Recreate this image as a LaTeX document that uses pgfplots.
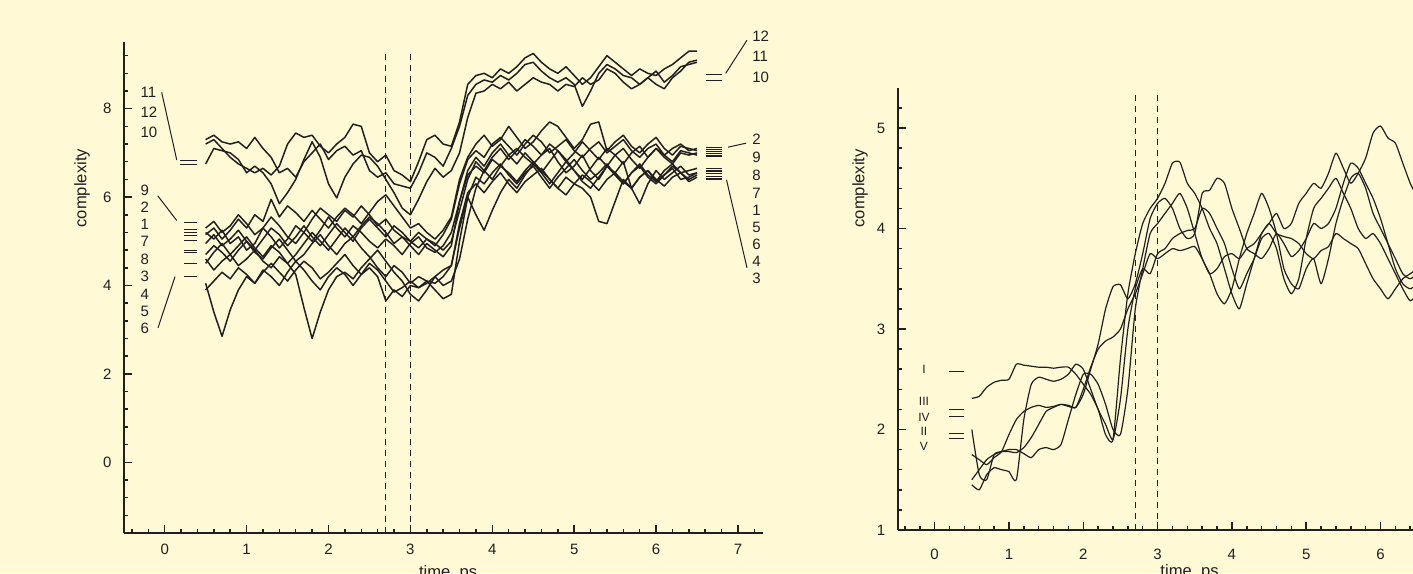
\documentclass[border=0pt]{standalone}
\usepackage{fontspec}
\setmainfont{Liberation Sans}
\usepackage{pgfplots}
\usepackage{pgfplotstable}
\pgfplotsset{compat=1.18}
\definecolor{bg}{RGB}{255,249,213}
\definecolor{ink}{RGB}{35,31,32}

% left panel: one row per trajectory, transposed below
\pgfplotstableread[header=false]{
x 0.5 0.6 0.7 0.8 0.9 1.0 1.1 1.2 1.3 1.4 1.5 1.6 1.7 1.8 1.9 2.0 2.1 2.2 2.3 2.4 2.5 2.6 2.7 2.8 2.9 3.0 3.1 3.2 3.3 3.4 3.5 3.6 3.7 3.8 3.9 4.0 4.1 4.2 4.3 4.4 4.5 4.6 4.7 4.8 4.9 5.0 5.1 5.2 5.3 5.4 5.5 5.6 5.7 5.8 5.9 6.0 6.1 6.2 6.3 6.4 6.5
c1 5.20 5.05 5.25 4.95 5.10 4.80 4.95 5.30 5.10 4.85 5.05 5.35 5.20 5.00 5.25 5.55 5.30 5.10 5.35 5.20 5.00 4.85 5.05 4.90 4.70 4.95 5.10 4.85 4.75 4.90 5.20 5.90 6.50 6.70 6.55 6.85 6.70 6.95 7.10 6.90 6.75 6.95 7.10 6.80 6.55 6.70 6.95 6.60 6.40 6.70 6.55 6.80 6.20 5.85 6.30 6.60 6.40 6.55 6.70 6.50 6.55
c2 5.30 5.45 5.20 5.35 5.60 5.40 5.15 5.30 5.55 5.35 5.10 4.95 5.20 5.50 5.75 5.60 5.45 5.70 5.55 5.80 5.60 5.35 5.50 5.25 5.10 5.00 5.20 5.05 4.90 5.15 5.50 6.30 6.85 7.05 6.90 7.20 7.35 7.15 6.95 7.20 7.40 7.25 7.00 7.15 7.30 7.05 6.90 7.10 7.25 7.00 7.15 7.30 7.05 6.90 7.10 7.20 6.95 7.10 7.20 7.05 7.10
c3 4.05 3.40 2.85 3.45 3.90 4.20 4.05 4.35 4.20 4.00 4.30 4.55 4.35 4.10 3.90 4.20 4.40 4.25 4.00 4.25 4.50 4.35 4.10 3.85 3.95 4.10 3.95 4.05 4.20 4.35 4.45 5.40 6.10 6.30 6.10 6.35 6.55 6.30 6.10 6.35 6.50 6.65 6.40 6.20 6.05 6.30 6.50 6.35 6.15 6.40 6.55 6.35 6.20 6.45 6.60 6.40 6.25 6.45 6.55 6.35 6.45
c4 4.60 4.35 4.55 4.70 4.45 4.60 4.80 4.55 4.40 4.65 4.50 4.25 3.50 2.80 3.40 3.90 4.20 4.30 4.15 4.40 4.60 4.80 4.55 4.30 4.10 3.80 3.65 3.90 4.20 4.00 4.10 4.60 5.50 6.20 6.60 6.40 6.70 6.55 6.35 6.60 6.80 6.60 6.40 6.20 6.45 6.30 6.20 6.00 5.45 5.40 5.90 6.40 6.20 6.45 6.60 6.35 6.50 6.70 6.55 6.40 6.50
c5 4.70 4.90 4.75 4.55 4.80 5.00 4.75 4.60 4.85 5.05 4.80 4.55 4.70 4.95 5.15 4.90 4.70 4.95 5.10 4.85 4.65 4.40 4.20 4.45 4.30 4.05 4.20 4.10 3.90 3.70 3.80 5.00 6.00 5.60 5.25 5.70 6.10 6.40 6.20 6.50 6.75 6.55 6.30 6.55 6.80 6.60 6.35 6.20 6.45 6.70 6.50 6.30 6.55 6.75 6.50 6.35 6.60 6.75 6.55 6.60 6.65
c6 3.90 4.10 4.30 4.15 4.40 4.25 4.05 4.30 4.50 4.30 4.10 4.35 4.55 4.40 4.15 4.30 4.50 4.70 4.45 4.25 4.40 4.20 3.65 3.90 3.75 4.00 3.95 4.10 4.05 4.20 4.45 5.30 6.00 6.45 6.30 6.55 6.75 6.50 6.30 6.55 6.70 6.45 6.20 6.45 6.65 6.85 6.60 6.40 6.55 6.75 6.50 6.30 6.55 6.70 6.45 6.30 6.50 6.65 6.40 6.45 6.55
c7 4.95 5.15 4.90 5.05 5.25 5.00 4.80 5.05 5.30 5.15 4.90 5.10 5.35 5.10 4.90 5.15 5.40 5.20 5.00 5.30 5.50 5.30 5.10 5.35 5.20 5.00 4.85 5.05 4.95 4.80 5.00 5.70 6.40 6.80 6.60 6.90 7.10 6.85 7.05 7.30 7.15 6.95 7.20 7.05 6.80 7.00 7.25 7.05 6.85 7.10 6.95 6.75 7.00 7.15 6.90 7.10 6.95 6.80 7.05 7.00 6.95
c8 4.50 4.75 4.95 4.70 4.90 5.10 4.85 4.65 4.90 4.75 4.50 4.70 4.95 5.20 5.00 4.80 5.05 5.30 5.10 5.35 5.55 5.40 5.20 4.95 5.10 4.90 4.70 4.95 4.80 4.65 4.90 5.90 6.60 6.90 6.70 7.00 7.20 6.95 6.75 7.00 6.80 6.55 6.80 7.05 6.85 6.60 6.40 6.65 6.90 6.70 6.95 7.10 6.85 6.65 6.90 7.10 6.90 6.75 7.00 6.95 7.00
c9 5.15 5.30 5.05 5.25 5.50 5.30 5.60 5.45 5.95 5.55 5.80 5.65 5.45 5.70 5.50 5.30 5.55 5.75 5.60 5.40 5.65 5.90 6.05 5.80 5.55 5.30 5.40 5.20 5.05 5.25 5.55 6.40 6.90 7.20 7.40 7.15 7.30 7.60 7.35 7.10 7.25 7.50 7.70 7.60 7.35 7.10 7.30 7.65 7.70 7.05 7.25 7.40 7.15 7.00 7.20 7.35 7.10 6.95 7.15 7.10 7.05
c10 6.75 7.10 7.05 7.00 6.85 6.55 6.70 6.55 6.30 5.85 6.10 6.40 6.85 7.25 6.90 6.30 5.98 6.45 6.75 6.95 6.90 6.70 6.40 6.10 5.75 5.60 5.95 6.35 6.65 6.45 6.60 7.00 7.80 8.35 8.40 8.55 8.45 8.60 8.40 8.55 8.70 8.60 8.55 8.40 8.55 8.50 8.70 8.55 8.65 8.90 8.80 8.60 8.45 8.55 8.70 8.55 8.45 8.70 8.85 9.05 9.10
c11 7.30 7.40 7.25 7.20 7.25 7.10 7.35 7.10 6.90 6.55 6.65 6.45 6.80 7.00 7.20 6.85 7.05 7.15 6.95 7.05 6.60 6.45 6.55 6.30 6.25 6.20 6.55 7.00 6.90 6.70 7.10 7.60 8.30 8.55 8.65 8.60 8.75 8.65 8.80 9.00 9.05 8.85 8.70 8.60 8.70 8.55 8.05 8.40 8.80 9.00 8.90 8.75 8.70 8.55 8.70 8.85 8.60 8.75 8.95 9.00 9.05
c12 7.20 7.30 7.10 6.90 6.75 6.65 6.55 6.65 6.50 6.70 7.20 7.45 7.35 7.40 7.15 7.00 7.20 7.35 7.65 7.60 7.00 6.80 6.95 6.60 6.50 6.35 6.80 7.30 7.40 7.20 7.15 7.70 8.55 8.75 8.80 8.70 8.90 8.80 8.95 9.15 9.25 9.05 8.90 8.80 8.95 8.75 8.55 8.70 8.95 9.20 9.05 8.90 8.75 8.90 8.80 8.75 8.90 9.00 9.15 9.30 9.30
}\leftraw
\pgfplotstabletranspose[colnames from=0]{\lefttab}{\leftraw}

% right panel: trajectories I-V
\pgfplotstableread[header=false]{
x 0.5 0.6 0.7 0.8 0.9 1.0 1.1 1.2 1.3 1.4 1.5 1.6 1.7 1.8 1.9 2.0 2.1 2.2 2.3 2.4 2.5 2.6 2.7 2.8 2.9 3.0 3.1 3.2 3.3 3.4 3.5 3.6 3.7 3.8 3.9 4.0 4.1 4.2 4.3 4.4 4.5 4.6 4.7 4.8 4.9 5.0 5.1 5.2 5.3 5.4 5.5 5.6 5.7 5.8 5.9 6.0 6.1 6.2 6.3 6.4 6.5
r1 2.31 2.33 2.42 2.47 2.49 2.50 2.65 2.64 2.63 2.62 2.62 2.61 2.62 2.62 2.55 2.45 2.35 2.20 1.95 1.90 2.70 3.35 3.75 4.05 4.20 4.30 4.45 4.65 4.66 4.45 4.35 4.20 4.00 3.85 3.60 3.35 3.20 3.45 3.70 3.95 4.05 4.15 4.00 4.05 4.25 4.35 4.45 4.40 4.55 4.75 4.60 4.45 4.55 4.70 4.95 5.02 4.90 4.85 4.65 4.45 4.30
r2 2.00 1.55 1.50 1.75 1.78 1.80 1.80 1.76 1.72 1.80 1.82 1.80 1.85 2.10 2.35 2.55 2.55 2.45 2.25 2.00 1.95 2.40 3.20 3.60 3.95 4.05 4.15 4.25 4.35 4.20 3.95 3.70 3.55 3.35 3.25 3.40 3.70 3.95 4.15 4.35 4.20 3.95 3.60 3.45 3.40 3.60 3.70 3.45 3.70 4.05 4.30 4.50 4.55 4.40 4.15 4.00 3.85 3.70 3.55 3.50 3.55
r3 1.75 1.70 1.65 1.72 1.78 1.95 2.10 2.18 2.22 2.24 2.22 2.23 2.25 2.23 2.22 2.40 2.62 2.80 2.88 2.92 3.00 3.20 3.35 3.55 3.75 3.70 3.75 3.80 3.78 3.80 3.82 3.70 3.55 3.60 3.72 3.75 3.70 3.80 3.85 3.95 4.05 3.95 3.92 3.90 3.85 3.75 3.70 3.78 3.82 3.95 3.90 3.85 3.80 3.65 3.50 3.40 3.30 3.40 3.50 3.55 3.60
r4 1.50 1.60 1.70 1.75 1.78 1.78 1.77 1.82 1.92 2.05 2.18 2.22 2.25 2.24 2.22 2.35 2.60 2.85 3.20 3.42 3.44 3.30 3.45 3.75 4.10 4.25 4.30 4.20 4.00 3.90 3.95 4.35 4.38 4.50 4.45 4.20 4.00 3.80 3.75 3.70 3.80 3.95 3.85 3.72 3.78 3.90 4.05 4.00 4.05 4.20 4.45 4.65 4.60 4.45 4.30 4.10 3.85 3.60 3.45 3.40 3.45
r5 1.45 1.40 1.55 1.62 1.60 1.58 1.50 2.10 2.45 2.52 2.50 2.48 2.50 2.55 2.65 2.60 2.40 2.20 2.05 1.90 2.30 3.00 3.40 3.60 3.55 3.75 3.80 3.90 3.95 3.98 4.00 4.20 4.15 4.00 3.85 3.60 3.40 3.55 3.70 3.90 3.95 3.80 3.50 3.35 3.50 3.90 4.20 4.30 4.40 4.50 4.35 4.20 4.00 3.90 3.95 3.85 3.70 3.55 3.40 3.28 3.35
}\rightraw
\pgfplotstabletranspose[colnames from=0]{\righttab}{\rightraw}

\pgfplotsset{
  panel/.style={
    scale only axis, clip=false,
    axis lines=left, axis line style={-, line width=1pt, ink},
    tick align=inside, major tick length=4.2pt, minor tick length=2.2pt,
    every tick/.style={ink, line width=0.75pt},
    tick label style={font=\fontsize{7.5}{9}\selectfont, text=ink},
    /pgf/number format/assume math mode=true,
    xticklabel style={yshift=-2.2pt}, yticklabel style={xshift=-2.6pt},
    xmin=-0.5, xmax=7.3, xtick={0,...,7}, minor xtick={-0.4,-0.2,...,7.2},
  },
  curve/.style={ink, line width=0.75pt, line join=round, mark=none},
  thin curve/.style={ink, line width=0.6pt, line join=round, mark=none, smooth, tension=0.35},
  vline/.style={ink, line width=0.5pt, dash pattern=on 3pt off 2.5pt, mark=none},
  dash/.style={ink, line width=0.6pt, mark=none},
}
\tikzset{
  num/.style={font=\fontsize{7.5}{9}\selectfont, text=ink, anchor=west, inner sep=0pt},
  rom/.style={font=\fontsize{6}{7}\selectfont, text=ink},
  axlab/.style={font=\fontsize{8.3}{10}\selectfont, text=ink},
}

\begin{document}
\begin{tikzpicture}
\useasboundingbox (0,0) rectangle (706.5pt,286.5pt);
\fill[bg] (0,0) rectangle (706.5pt,286.5pt);
\clip (0,0) rectangle (706.5pt,286.5pt);

% ---------- left panel ----------
\begin{axis}[panel, at={(61.875pt,20pt)}, anchor=south west,
  width=319.4pt, height=245.3pt,
  ymin=-1.6, ymax=9.5, ytick={0,2,...,8}, minor ytick={-1.2,-0.8,...,9.2}]
\pgfplotsinvokeforeach{c1,c2,c3,c4,c5,c6,c7,c8,c9,c10,c11,c12}{
  \addplot[curve] table[x=x, y=#1] {\lefttab};
}
\addplot[vline] coordinates {(2.7,-1.6) (2.7,9.35)};
\addplot[vline] coordinates {(3.0,-1.6) (3.0,9.35)};
% start levels
\addplot[dash] coordinates {(0.187,6.82) (0.39,6.82)};
\addplot[dash] coordinates {(0.187,6.73) (0.39,6.73)};
\addplot[dash] coordinates {(0.236,5.42) (0.40,5.42)};
\addplot[dash] coordinates {(0.236,5.26) (0.40,5.26)};
\addplot[dash] coordinates {(0.236,5.20) (0.40,5.20)};
\addplot[dash] coordinates {(0.236,5.13) (0.40,5.13)};
\addplot[dash] coordinates {(0.236,5.01) (0.40,5.01)};
\addplot[dash] coordinates {(0.236,4.80) (0.40,4.80)};
\addplot[dash] coordinates {(0.236,4.75) (0.40,4.75)};
\addplot[dash] coordinates {(0.236,4.50) (0.40,4.50)};
\addplot[dash] coordinates {(0.236,4.20) (0.40,4.20)};
% end levels
\addplot[dash] coordinates {(6.61,8.78) (6.81,8.78)};
\addplot[dash] coordinates {(6.61,8.63) (6.81,8.63)};
\addplot[dash] coordinates {(6.61,7.13) (6.81,7.13)};
\addplot[dash] coordinates {(6.61,7.08) (6.81,7.08)};
\addplot[dash] coordinates {(6.61,7.03) (6.81,7.03)};
\addplot[dash] coordinates {(6.61,6.98) (6.81,6.98)};
\addplot[dash] coordinates {(6.61,6.93) (6.81,6.93)};
\addplot[dash] coordinates {(6.61,6.65) (6.81,6.65)};
\addplot[dash] coordinates {(6.61,6.59) (6.81,6.59)};
\addplot[dash] coordinates {(6.61,6.53) (6.81,6.53)};
\addplot[dash] coordinates {(6.61,6.47) (6.81,6.47)};
\addplot[dash] coordinates {(6.61,6.41) (6.81,6.41)};
% labels, left side
\node[num] at (axis cs:-0.30,8.37) {11};
\node[num] at (axis cs:-0.30,7.93) {12};
\node[num] at (axis cs:-0.30,7.46) {10};
\node[num] at (axis cs:-0.30,6.16) {9};
\node[num] at (axis cs:-0.30,5.78) {2};
\node[num] at (axis cs:-0.30,5.39) {1};
\node[num] at (axis cs:-0.30,4.99) {7};
\node[num] at (axis cs:-0.30,4.60) {8};
\node[num] at (axis cs:-0.30,4.20) {3};
\node[num] at (axis cs:-0.30,3.81) {4};
\node[num] at (axis cs:-0.30,3.41) {5};
\node[num] at (axis cs:-0.30,3.04) {6};
% labels, right side
\node[num] at (axis cs:7.17,9.64) {12};
\node[num] at (axis cs:7.17,9.19) {11};
\node[num] at (axis cs:7.17,8.71) {10};
\node[num] at (axis cs:7.17,7.31) {2};
\node[num] at (axis cs:7.17,6.89) {9};
\node[num] at (axis cs:7.17,6.49) {8};
\node[num] at (axis cs:7.17,6.09) {7};
\node[num] at (axis cs:7.17,5.70) {1};
\node[num] at (axis cs:7.17,5.31) {5};
\node[num] at (axis cs:7.17,4.92) {6};
\node[num] at (axis cs:7.17,4.55) {4};
\node[num] at (axis cs:7.17,4.16) {3};
\draw[ink, line width=0.5pt] (axis cs:-0.037,8.37) -- (axis cs:0.147,6.84);
\draw[ink, line width=0.5pt] (axis cs:-0.085,6.03) -- (axis cs:0.147,5.47);
\draw[ink, line width=0.5pt] (axis cs:-0.082,3.04) -- (axis cs:0.126,4.20);
\draw[ink, line width=0.5pt] (axis cs:6.85,8.80) -- (axis cs:7.11,9.55);
\draw[ink, line width=0.5pt] (axis cs:6.88,7.13) -- (axis cs:7.10,7.22);
\draw[ink, line width=0.5pt] (axis cs:6.86,6.39) -- (axis cs:7.11,4.40);
\node[axlab, rotate=90] at (axis cs:-1.01,6.2) {complexity};
\node[axlab, anchor=north, inner sep=0pt, yshift=-16pt] at (axis cs:3.46,-1.6) {time, ps};
\end{axis}

% ---------- right panel ----------
\begin{axis}[panel, at={(448.75pt,21.5pt)}, anchor=south west,
  width=289.8pt, height=221.1pt,
  ymin=1, ymax=5.4, ytick={1,...,5}, minor ytick={1.2,1.4,...,5.2},
  xticklabel style={yshift=-4pt}]
\pgfplotsinvokeforeach{r1,r2,r3,r4,r5}{
  \addplot[thin curve] table[x=x, y=#1] {\righttab};
}
\addplot[vline] coordinates {(2.7,1) (2.7,5.36)};
\addplot[vline] coordinates {(3.0,1) (3.0,5.36)};
\addplot[dash] coordinates {(0.19,2.58) (0.40,2.58)};
\addplot[dash] coordinates {(0.19,2.20) (0.40,2.20)};
\addplot[dash] coordinates {(0.19,2.13) (0.40,2.13)};
\addplot[dash] coordinates {(0.19,1.96) (0.40,1.96)};
\addplot[dash] coordinates {(0.19,1.91) (0.40,1.91)};
\node[rom] at (axis cs:-0.144,2.60) {I};
\node[rom] at (axis cs:-0.144,2.28) {III};
\node[rom] at (axis cs:-0.144,2.12) {IV};
\node[rom] at (axis cs:-0.144,1.98) {II};
\node[rom] at (axis cs:-0.144,1.83) {V};
\node[axlab, rotate=90] at (axis cs:-1.005,4.40) {complexity};
\node[axlab, anchor=north, inner sep=0pt, yshift=-17pt] at (axis cs:3.43,1) {time, ps};
\end{axis}
\end{tikzpicture}
\end{document}
